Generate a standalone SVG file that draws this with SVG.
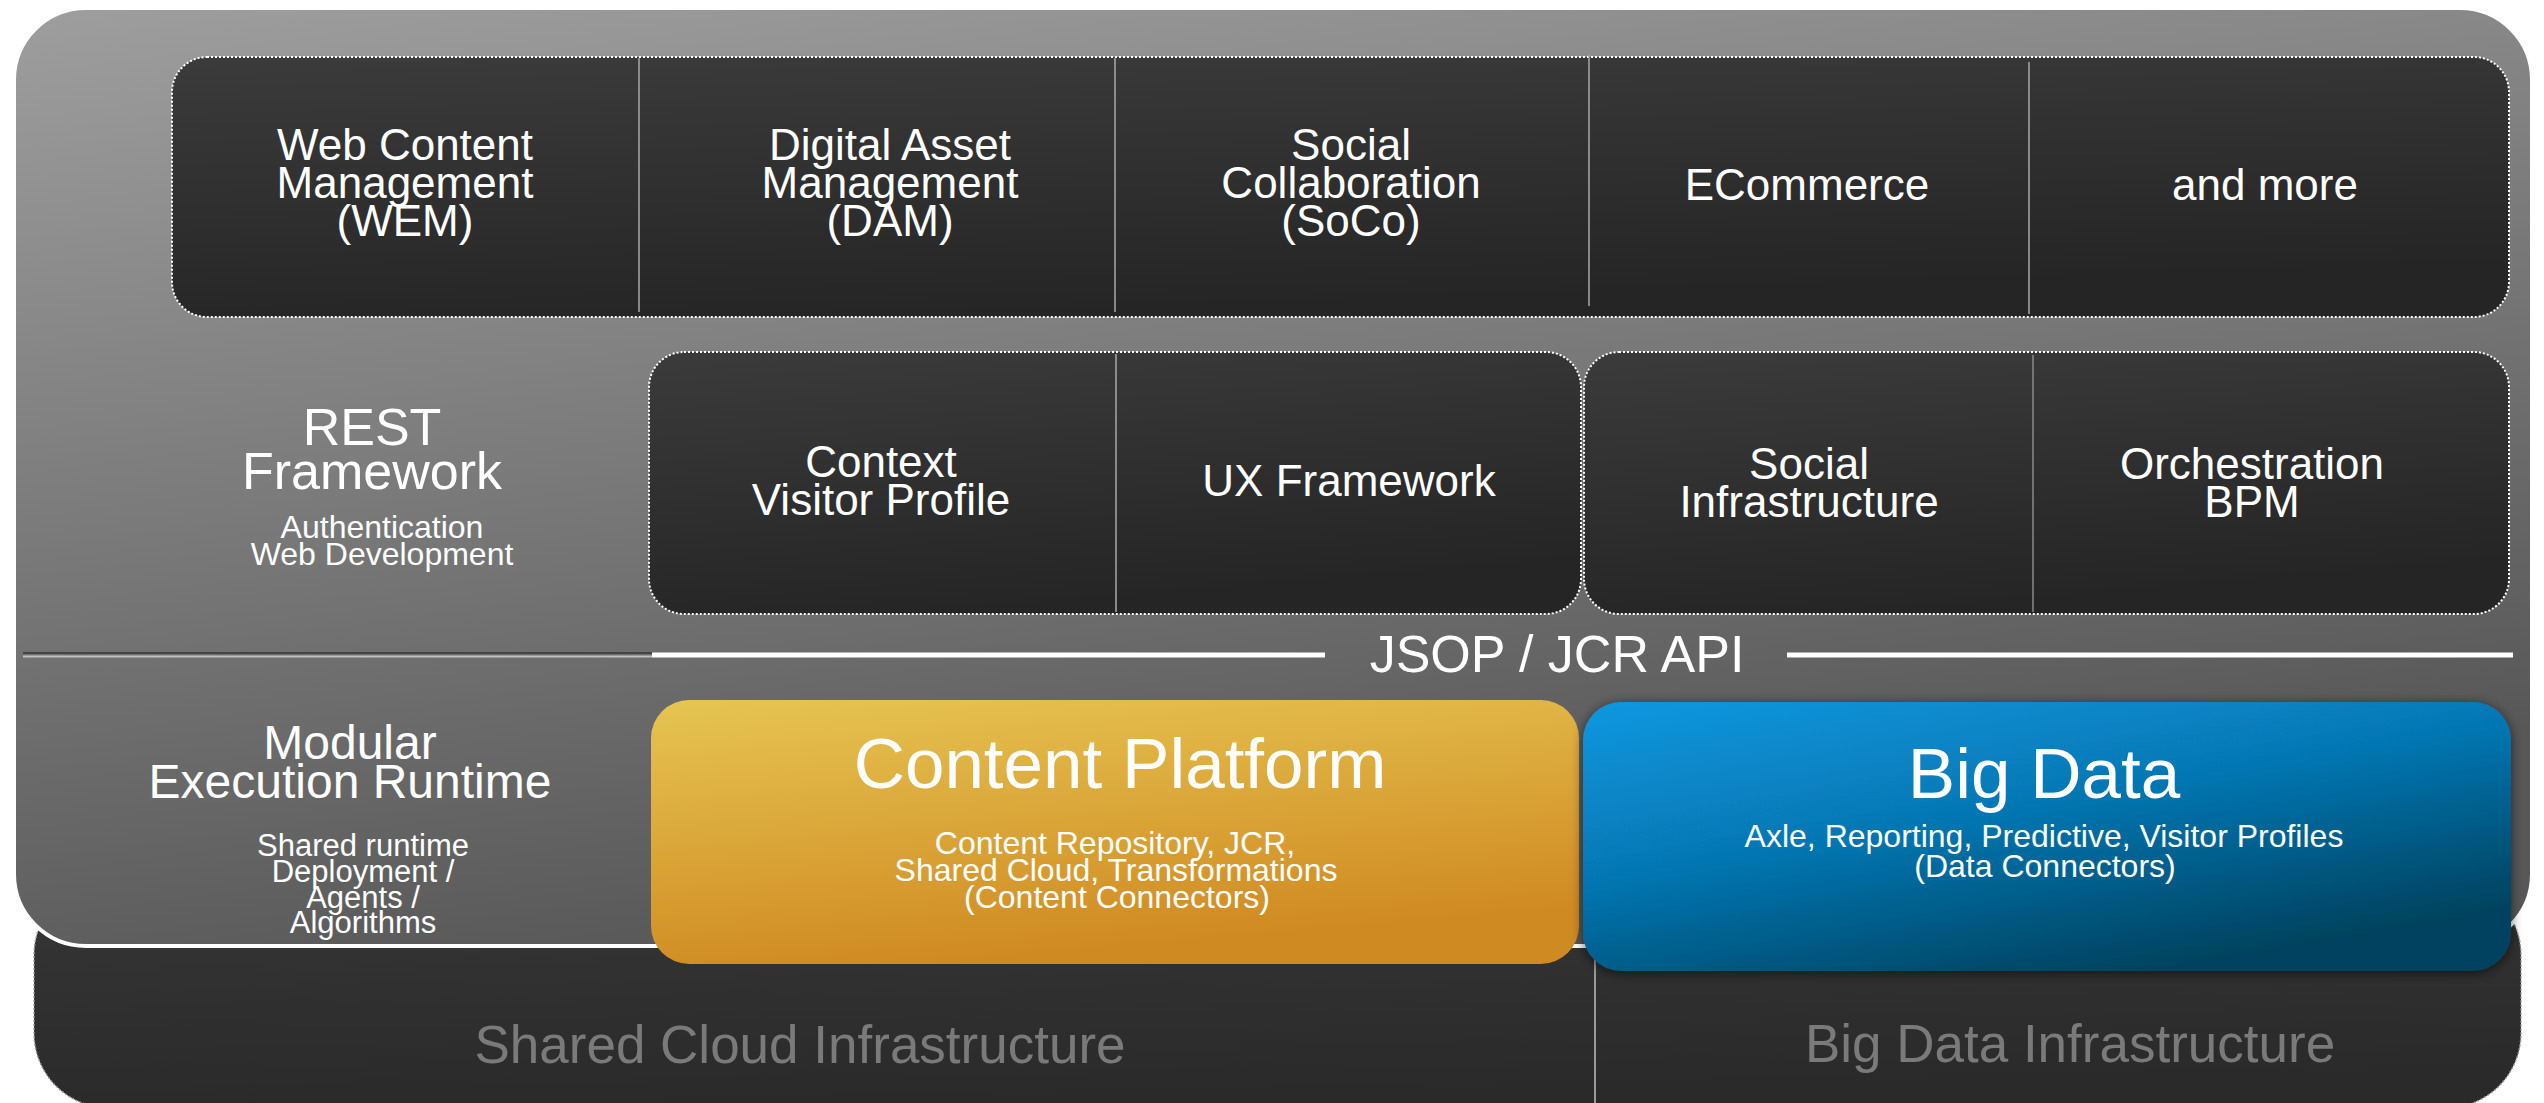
<svg xmlns="http://www.w3.org/2000/svg" width="2544" height="1103" viewBox="0 0 2544 1103">
  <defs>
    <linearGradient id="gPanel" x1="0" y1="0" x2="0.35" y2="1">
      <stop offset="0" stop-color="#9e9e9e"/>
      <stop offset="1" stop-color="#575757"/>
    </linearGradient>
    <linearGradient id="gDark" x1="0" y1="0" x2="0.3" y2="1">
      <stop offset="0" stop-color="#3b3b3b"/>
      <stop offset="1" stop-color="#252525"/>
    </linearGradient>
    <linearGradient id="gBase" x1="0" y1="0" x2="0.2" y2="1">
      <stop offset="0" stop-color="#363636"/>
      <stop offset="1" stop-color="#2a2a2a"/>
    </linearGradient>
    <linearGradient id="gOrange" x1="0" y1="0" x2="0.3" y2="1">
      <stop offset="0" stop-color="#e6c552"/>
      <stop offset="1" stop-color="#d08a22"/>
    </linearGradient>
    <linearGradient id="gBlue" x1="0" y1="0" x2="0.6" y2="1">
      <stop offset="0" stop-color="#0998e0"/>
      <stop offset="0.5" stop-color="#0676b2"/>
      <stop offset="1" stop-color="#04435f"/>
    </linearGradient>
    <filter id="shadow" x="-5%" y="-10%" width="110%" height="125%">
      <feDropShadow dx="0" dy="2" stdDeviation="6" flood-color="#000" flood-opacity="0.6"/>
    </filter>
    <style>
      text { font-family: "Liberation Sans", Arial, Helvetica, sans-serif; fill: #fff; text-anchor: middle; }
      .t44 { font-size: 44px; }
      .t52 { font-size: 52px; }
      .t48 { font-size: 48px; }
      .t32 { font-size: 32px; }
      .t31 { font-size: 31px; }
      .t70 { font-size: 71px; }
      .infra { font-size: 53px; fill: #7a7a7a; }
      .dotted { fill: url(#gDark); stroke: #ffffff; stroke-width: 2; stroke-dasharray: 2 2; }
      .div { stroke: #a8a8a8; stroke-width: 1.5; }
    </style>
  </defs>

  <!-- bottom infrastructure base -->
  <g id="infrastructure">
    <rect x="34" y="880" width="2487" height="228" rx="75" ry="75" fill="url(#gBase)" stroke="#9a9a9a" stroke-width="1.5" stroke-dasharray="2 2"/>
    <line x1="1595" y1="950" x2="1595" y2="1103" stroke="#9a9a9a" stroke-width="2"/>
    <text class="infra" x="800" y="1063">Shared Cloud Infrastructure</text>
    <text class="infra" x="2070" y="1062">Big Data Infrastructure</text>
  </g>

  <!-- main gray panel -->
  <g id="panel">
    <rect x="14" y="8" width="2518" height="938" rx="72" ry="72" fill="url(#gPanel)" stroke="#ffffff" stroke-width="4"/>
  </g>

  <!-- applications row -->
  <g id="applications">
    <rect class="dotted" x="172" y="57" width="2337" height="260" rx="35" ry="35"/>
    <line class="div" x1="639" y1="58" x2="639" y2="312"/>
    <line class="div" x1="1115" y1="58" x2="1115" y2="312"/>
    <line class="div" x1="1589" y1="55" x2="1589" y2="306"/>
    <line class="div" x1="2029" y1="62" x2="2029" y2="314"/>
  </g>
  <g id="wem">
    <text class="t44" x="405" y="160">Web Content</text>
    <text class="t44" x="405" y="198">Management</text>
    <text class="t44" x="405" y="236">(WEM)</text>
  </g>
  <g id="dam">
    <text class="t44" x="890" y="160">Digital Asset</text>
    <text class="t44" x="890" y="198">Management</text>
    <text class="t44" x="890" y="236">(DAM)</text>
  </g>
  <g id="soco">
    <text class="t44" x="1351" y="160">Social</text>
    <text class="t44" x="1351" y="198">Collaboration</text>
    <text class="t44" x="1351" y="236">(SoCo)</text>
  </g>
  <g id="ecommerce">
    <text class="t44" x="1807" y="200">ECommerce</text>
  </g>
  <g id="more">
    <text class="t44" x="2265" y="200">and more</text>
  </g>

  <!-- REST framework label -->
  <g id="rest">
    <text class="t52" x="372" y="445">REST</text>
    <text class="t52" x="372" y="489">Framework</text>
    <text class="t32" x="382" y="538">Authentication</text>
    <text class="t32" x="382" y="565">Web Development</text>
  </g>

  <!-- framework row -->
  <g id="frameworks">
    <rect class="dotted" x="649" y="352" width="932" height="262" rx="35" ry="35"/>
    <line class="div" x1="1116" y1="354" x2="1116" y2="612"/>
  </g>
  <g id="context">
    <text class="t44" x="881" y="477">Context</text>
    <text class="t44" x="881" y="515">Visitor Profile</text>
  </g>
  <g id="ux">
    <text class="t44" x="1349" y="496">UX Framework</text>
  </g>
  <g id="services">
    <rect class="dotted" x="1584" y="352" width="925" height="262" rx="35" ry="35"/>
    <line x1="2033" y1="355" x2="2033" y2="612" stroke="#8a8a8a" stroke-width="1.5"/>
  </g>
  <g id="social">
    <text class="t44" x="1809" y="479">Social</text>
    <text class="t44" x="1809" y="517">Infrastructure</text>
  </g>
  <g id="orchestration">
    <text class="t44" x="2252" y="479">Orchestration</text>
    <text class="t44" x="2252" y="517">BPM</text>
  </g>

  <!-- JSOP / JCR API separator -->
  <g id="api">
    <line x1="23" y1="653" x2="652" y2="653" stroke="#444444" stroke-width="2"/>
    <line x1="23" y1="656.5" x2="652" y2="656.5" stroke="#c0c0c0" stroke-width="2"/>
    <line x1="652" y1="655" x2="1325" y2="655" stroke="#ffffff" stroke-width="5"/>
    <line x1="1787" y1="655" x2="2513" y2="655" stroke="#ffffff" stroke-width="5"/>
    <text class="t52" x="1557" y="672">JSOP / JCR API</text>
  </g>

  <!-- Modular execution runtime label -->
  <g id="runtime">
    <text class="t48" x="350" y="759">Modular</text>
    <text class="t48" x="350" y="798">Execution Runtime</text>
    <text class="t31" x="363" y="856">Shared runtime</text>
    <text class="t31" x="363" y="882">Deployment /</text>
    <text class="t31" x="363" y="908">Agents /</text>
    <text class="t31" x="363" y="933">Algorithms</text>
  </g>

  <!-- Content platform -->
  <g id="content-platform">
    <rect x="651" y="700" width="928" height="264" rx="38" ry="38" fill="url(#gOrange)"/>
    <text class="t70" x="1120" y="788">Content Platform</text>
    <text class="t32" x="1115" y="854">Content Repository, JCR,</text>
    <text class="t32" x="1116" y="881">Shared Cloud, Transformations</text>
    <text class="t32" x="1117" y="908">(Content Connectors)</text>
  </g>

  <!-- Big data -->
  <g id="big-data">
    <rect x="1583" y="702" width="928" height="269" rx="38" ry="38" fill="url(#gBlue)" filter="url(#shadow)"/>
    <text class="t70" x="2044" y="798">Big Data</text>
    <text class="t32" x="2044" y="847">Axle, Reporting, Predictive, Visitor Profiles</text>
    <text class="t32" x="2045" y="877">(Data Connectors)</text>
  </g>

  <g id="connectors"></g>
</svg>
